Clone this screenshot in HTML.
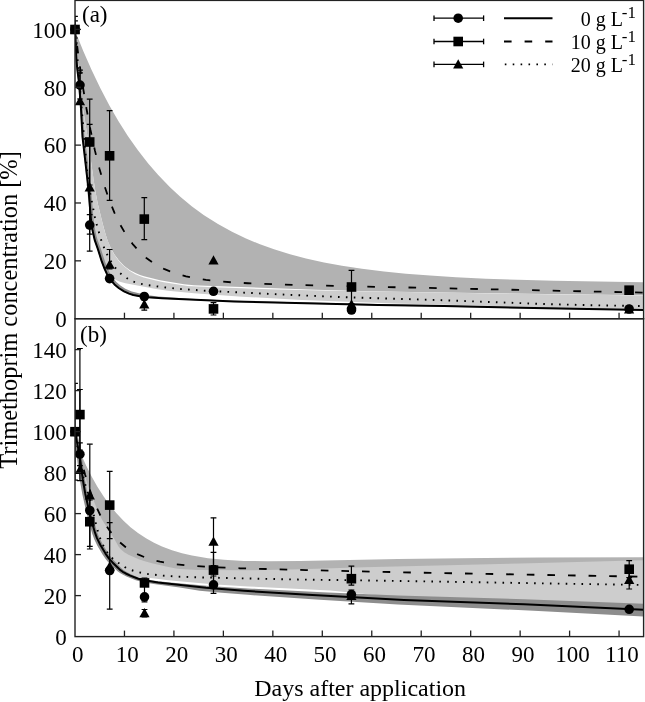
<!DOCTYPE html>
<html><head><meta charset="utf-8"><style>
html,body{margin:0;padding:0;background:#fff;}
svg{display:block;font-family:"Liberation Serif",serif;will-change:transform;}
.b10{fill:#b2b2b2;}
.b20{fill:#cdcdcd;}
.b0{fill:#8d8d8d;}
.ln{fill:none;stroke:#000;stroke-width:2;stroke-linejoin:round;}
.dash{stroke-dasharray:7.6 13;stroke-width:1.8;}
#A .dash{stroke-dashoffset:3.8;}
#B .dash{stroke-dashoffset:1.2;}
#A .dot,#B .dot{stroke-dashoffset:1.6;}
.dot{stroke-dasharray:1.6 6.3;stroke-width:1.9;}
.eb line{stroke:#000;stroke-width:1.2;}
.mk{fill:#000;}
.ax{fill:none;stroke:#222;stroke-width:1.4;}
.tk line{stroke:#222;stroke-width:1.3;}
.tl{font-size:23px;fill:#000;}
.lg{font-size:20px;fill:#000;}
.lgd line{stroke:#000;stroke-width:1.3;}
</style></head><body>
<svg width="645" height="702" viewBox="0 0 645 702">
<defs>
<clipPath id="clipA"><rect x="75.0" y="0.4" width="568.6" height="318.3"/></clipPath>
<clipPath id="clipB"><rect x="75.0" y="318.7" width="568.6" height="317.90000000000003"/></clipPath>
</defs>
<rect width="645" height="702" fill="#fff"/>
<g id="A" clip-path="url(#clipA)">
<polygon class="b10" points="75.00,30.52 83.25,50.98 91.50,69.77 100.25,88.03 109.25,105.17 118.50,121.21 128.00,136.16 137.75,150.06 148.00,163.24 158.00,174.82 170.00,187.24 180.00,196.47 192.00,206.38 204.00,215.13 218.00,224.07 232.00,231.81 246.00,238.51 260.00,244.33 274.00,249.36 290.00,254.30 306.00,258.50 324.00,262.47 342.00,265.78 362.00,268.82 384.00,271.53 406.00,273.71 430.00,275.60 456.00,277.21 486.00,278.64 518.00,279.77 554.00,280.72 643.60,282.15 643.60,295.20 426.00,292.28 370.00,291.16 316.00,289.73 212.00,286.05 194.00,285.17 184.00,284.19 160.00,280.20 144.00,276.23 140.00,274.95 136.00,273.35 130.00,270.20 124.00,265.65 119.00,260.59 114.50,254.61 111.00,248.60 107.75,240.94 105.50,234.07 102.25,222.10 97.75,203.52 95.25,190.54 93.50,179.34 88.00,139.58 82.25,104.05 80.50,89.07 75.00,30.00"/>
<polygon class="b20" points="75.00,30.00 80.25,86.49 82.00,102.27 88.00,139.58 95.00,189.05 97.50,202.38 101.50,219.08 104.25,229.68 107.25,239.59 110.72,248.10 114.11,254.32 118.48,260.52 123.39,265.84 129.57,270.87 135.33,274.18 139.61,276.09 143.67,277.38 155.72,280.46 163.79,282.15 187.87,285.91 207.95,287.09 277.96,289.52 343.98,291.12 480.00,293.32 643.60,295.40 643.60,309.30 558.00,307.76 468.00,305.19 394.00,303.62 302.00,299.89 242.00,296.71 194.00,293.31 168.00,290.75 156.00,288.88 125.50,283.15 120.00,281.80 117.00,280.60 113.00,278.21 109.50,274.95 106.25,270.41 103.75,265.66 101.50,260.07 94.75,240.16 92.75,232.54 91.25,224.74 89.75,214.61 88.25,201.62 84.75,161.87 79.25,88.89 76.75,63.55 75.00,29.50"/>
<polygon class="b0" points="75.60,29.47 77.37,60.10 78.25,68.67 80.02,80.65 82.38,104.22 84.44,136.84 87.09,155.10 89.20,174.78 91.03,188.78 93.63,219.73 95.16,229.84 96.43,235.73 97.92,240.90 100.77,248.49 105.32,262.57 109.67,272.81 112.91,277.99 116.62,282.32 120.77,285.82 125.33,288.66 131.73,291.44 138.97,293.34 148.20,295.17 158.08,296.50 190.03,298.70 222.03,300.13 252.02,301.14 376.02,304.12 444.02,305.26 560.02,307.70 643.61,309.20 643.59,310.60 559.99,309.10 443.99,306.66 377.99,305.56 233.98,302.00 161.97,298.82 147.94,297.92 139.91,296.92 133.10,295.61 128.78,294.18 123.73,291.89 118.65,288.73 114.08,284.86 110.02,280.13 106.72,274.95 104.20,269.52 101.43,262.38 97.43,249.59 94.43,241.18 92.16,231.78 90.40,220.06 87.90,189.12 81.90,137.05 80.15,104.38 78.15,80.83 76.65,68.85 75.90,60.20 74.40,29.53"/>
<polyline class="ln" points="75.00,29.50 76.50,60.16 77.25,68.79 78.75,80.77 80.75,104.34 82.50,137.00 88.50,189.06 91.00,220.00 92.50,230.33 94.75,240.17 98.00,249.40 101.75,261.44 104.50,268.68 107.00,274.19 110.50,279.77 114.50,284.43 119.00,288.25 124.00,291.35 129.00,293.62 133.25,295.02 140.00,296.32 148.00,297.32 162.00,298.23 234.00,301.40 378.00,304.96 444.00,306.06 560.00,308.50 643.60,310.00"/>
<polyline class="ln dash" points="75.00,29.26 78.75,58.53 82.50,84.41 86.50,108.72 90.50,130.04 95.00,150.90 99.50,168.90 104.25,185.23 109.25,199.89 114.50,212.90 120.25,224.82 126.25,235.09 132.50,243.85 139.00,251.27 146.00,257.70 154.00,263.48 158.00,265.86 164.00,268.91 170.00,271.44 178.00,274.15 186.00,276.28 196.00,278.31 206.00,279.84 218.00,281.19 232.00,282.33 248.00,283.25 280.00,284.49 326.00,285.71 643.60,292.64"/>
<polyline class="ln dot" points="75.00,29.50 86.50,165.89 88.25,180.12 90.00,192.00 95.00,217.86 97.00,225.72 101.75,241.91 105.75,251.80 109.75,259.46 114.25,266.34 117.25,270.12 119.75,272.83 124.25,276.52 131.75,281.14 138.75,283.36 148.00,285.19 164.00,287.34 180.00,288.95 206.00,290.77 286.00,294.70 342.00,297.11 436.00,300.00 546.00,304.10 598.00,305.38 643.60,306.10"/>
<g class="eb"><line x1="75" y1="16.3" x2="75" y2="43"/><line x1="72.1" y1="16.3" x2="77.9" y2="16.3"/><line x1="72.1" y1="43" x2="77.9" y2="43"/><line x1="75" y1="20.9" x2="75" y2="38"/><line x1="72.1" y1="20.9" x2="77.9" y2="20.9"/><line x1="72.1" y1="38" x2="77.9" y2="38"/><line x1="80" y1="70.2" x2="80" y2="99"/><line x1="77.1" y1="70.2" x2="82.9" y2="70.2"/><line x1="77.1" y1="99" x2="82.9" y2="99"/><line x1="80" y1="72.9" x2="80" y2="104"/><line x1="77.1" y1="72.9" x2="82.9" y2="72.9"/><line x1="77.1" y1="104" x2="82.9" y2="104"/><line x1="89.7" y1="99.2" x2="89.7" y2="185"/><line x1="86.8" y1="99.2" x2="92.60000000000001" y2="99.2"/><line x1="86.8" y1="185" x2="92.60000000000001" y2="185"/><line x1="89.7" y1="124.4" x2="89.7" y2="251.2"/><line x1="86.8" y1="124.4" x2="92.60000000000001" y2="124.4"/><line x1="86.8" y1="251.2" x2="92.60000000000001" y2="251.2"/><line x1="89.7" y1="214.6" x2="89.7" y2="234.1"/><line x1="86.8" y1="214.6" x2="92.60000000000001" y2="214.6"/><line x1="86.8" y1="234.1" x2="92.60000000000001" y2="234.1"/><line x1="109.6" y1="110.7" x2="109.6" y2="200.4"/><line x1="106.69999999999999" y1="110.7" x2="112.5" y2="110.7"/><line x1="106.69999999999999" y1="200.4" x2="112.5" y2="200.4"/><line x1="109.6" y1="249.5" x2="109.6" y2="268.8"/><line x1="106.69999999999999" y1="249.5" x2="112.5" y2="249.5"/><line x1="106.69999999999999" y1="268.8" x2="112.5" y2="268.8"/><line x1="144.3" y1="197.7" x2="144.3" y2="239.6"/><line x1="141.4" y1="197.7" x2="147.20000000000002" y2="197.7"/><line x1="141.4" y1="239.6" x2="147.20000000000002" y2="239.6"/><line x1="144.3" y1="300" x2="144.3" y2="310.2"/><line x1="141.4" y1="300" x2="147.20000000000002" y2="300"/><line x1="141.4" y1="310.2" x2="147.20000000000002" y2="310.2"/><line x1="213.5" y1="302.6" x2="213.5" y2="315"/><line x1="210.6" y1="302.6" x2="216.4" y2="302.6"/><line x1="210.6" y1="315" x2="216.4" y2="315"/><line x1="351.5" y1="270.3" x2="351.5" y2="303.7"/><line x1="348.6" y1="270.3" x2="354.4" y2="270.3"/><line x1="348.6" y1="303.7" x2="354.4" y2="303.7"/></g>
</g>
<g class="mk"><circle cx="75.00" cy="29.50" r="4.8"/><polygon points="75.00,24.30 80.10,33.60 69.90,33.60"/><rect x="70.20" y="24.70" width="9.6" height="9.6"/><circle cx="80.00" cy="85.10" r="4.8"/><polygon points="80.00,96.00 85.10,105.30 74.90,105.30"/><rect x="84.90" y="137.20" width="9.6" height="9.6"/><polygon points="89.70,182.30 94.80,191.60 84.60,191.60"/><circle cx="89.70" cy="225.10" r="4.8"/><rect x="104.80" y="151.00" width="9.6" height="9.6"/><polygon points="109.60,259.40 114.70,268.70 104.50,268.70"/><circle cx="109.60" cy="278.60" r="4.8"/><rect x="139.50" y="214.30" width="9.6" height="9.6"/><circle cx="144.30" cy="296.50" r="4.8"/><polygon points="144.30,299.30 149.40,308.60 139.20,308.60"/><polygon points="213.50,255.30 218.60,264.60 208.40,264.60"/><circle cx="213.50" cy="291.30" r="4.8"/><rect x="208.70" y="304.10" width="9.6" height="9.6"/><rect x="346.70" y="282.20" width="9.6" height="9.6"/><polygon points="351.50,299.30 356.60,308.60 346.40,308.60"/><circle cx="351.50" cy="310.00" r="4.8"/><rect x="624.30" y="285.40" width="9.6" height="9.6"/><polygon points="629.10,304.30 634.20,313.60 624.00,313.60"/><circle cx="629.10" cy="309.00" r="4.8"/></g>
<g id="B" clip-path="url(#clipB)">
<polygon class="b10" points="75.00,439.66 80.25,452.59 85.75,464.81 91.50,476.26 97.25,486.48 103.50,496.35 109.75,505.06 116.25,513.02 123.25,520.48 130.50,527.14 138.00,533.04 146.00,538.36 154.00,542.82 162.00,546.55 172.00,550.33 182.00,553.29 192.00,555.60 208.00,558.20 224.00,559.82 244.00,560.89 268.00,561.29 300.00,561.03 398.00,559.05 462.00,558.14 540.00,557.54 643.60,557.22 643.60,564.20 520.00,567.60 368.00,571.03 302.00,573.25 260.00,574.15 228.00,574.27 194.00,573.84 178.00,572.79 168.00,571.01 150.00,566.80 144.00,565.12 139.00,563.42 129.75,559.32 126.00,557.32 122.00,554.44 119.00,551.22 114.50,543.33 104.00,526.96 100.75,521.29 97.00,513.00 90.25,495.59 87.00,486.52 84.50,478.16 75.00,436.00"/>
<polygon class="b20" points="75.00,432.00 83.50,470.05 85.75,478.56 89.00,488.25 95.50,505.25 98.50,512.55 101.25,518.24 104.25,523.36 114.50,539.33 118.50,546.46 120.75,549.28 124.25,552.18 128.50,554.71 138.75,559.32 144.00,561.12 152.00,563.32 166.00,566.58 176.00,568.50 180.00,569.00 198.00,569.96 242.00,570.30 266.00,570.05 300.00,569.30 364.00,567.14 520.00,563.60 643.60,560.20 643.84,604.51 528.18,600.19 424.14,597.14 380.18,595.45 330.29,590.51 248.30,586.46 212.36,584.19 168.33,580.36 150.52,578.11 140.32,578.01 135.22,577.07 127.18,573.11 122.43,570.12 120.63,568.65 112.91,560.57 109.10,555.94 105.38,550.33 100.87,542.65 97.90,536.35 95.91,530.64 93.40,522.02 89.86,507.84 86.57,493.42 84.05,479.04 81.26,457.80 76.18,431.37"/>
<polygon class="b0" points="76.96,431.22 82.05,457.68 84.84,478.92 87.35,493.26 90.63,507.66 94.42,522.75 97.18,531.96 99.13,537.21 103.06,544.92 109.51,555.14 113.26,559.76 121.19,568.08 124.26,570.44 128.01,572.65 134.79,576.00 139.83,577.99 144.24,579.04 152.19,580.39 170.13,582.54 212.19,586.18 252.17,588.66 322.19,592.15 398.20,595.43 524.21,599.25 643.88,603.71 643.28,616.49 533.74,610.81 397.77,604.39 319.76,599.71 247.75,594.84 221.71,592.78 199.65,590.68 179.69,587.62 153.68,584.12 143.58,582.25 135.79,580.20 126.46,576.53 120.82,573.60 117.90,571.51 109.64,563.75 106.38,560.10 102.71,554.79 97.36,545.74 94.24,539.29 92.15,533.59 89.35,524.11 85.58,508.84 82.31,494.29 79.78,479.67 77.04,458.46 72.06,432.17"/>
<polyline class="ln" points="75.00,431.60 80.00,458.00 82.75,479.23 85.25,493.69 88.50,508.16 92.25,523.33 95.00,532.66 97.00,538.12 100.25,544.76 105.50,553.58 109.00,558.58 112.50,562.45 119.75,569.58 122.75,571.77 125.75,573.48 130.25,575.61 138.25,578.79 146.00,580.61 158.00,582.46 206.00,587.78 244.00,590.78 308.00,594.74 404.00,599.88 524.00,604.36 643.60,609.70"/>
<polyline class="ln dash" points="75.00,430.70 78.25,446.76 81.50,460.90 85.00,474.25 88.50,485.90 92.25,496.74 96.25,506.69 100.50,515.70 105.00,523.75 109.75,530.86 114.75,537.07 120.00,542.43 125.75,547.19 131.75,551.17 138.50,554.70 146.00,557.72 154.00,560.16 160.00,561.58 168.00,563.08 176.00,564.24 186.00,565.33 208.00,566.92 240.00,568.28 306.00,570.11 414.00,572.55 643.60,576.75"/>
<polyline class="ln dot" points="75.00,431.60 79.00,456.66 83.00,475.98 85.00,483.65 90.00,500.10 98.25,532.90 101.00,540.69 103.75,546.48 106.50,551.26 109.75,555.60 112.75,558.69 117.00,561.98 124.75,567.09 130.25,569.74 135.25,571.37 142.00,572.95 148.00,574.04 162.00,575.58 178.00,576.61 202.00,577.45 298.00,579.57 354.00,580.24 643.60,585.00"/>
<g class="eb"><line x1="75" y1="383.3" x2="75" y2="480.1"/><line x1="72.1" y1="383.3" x2="77.9" y2="383.3"/><line x1="72.1" y1="480.1" x2="77.9" y2="480.1"/><line x1="79.9" y1="348.5" x2="79.9" y2="480.7"/><line x1="77.0" y1="348.5" x2="82.80000000000001" y2="348.5"/><line x1="77.0" y1="480.7" x2="82.80000000000001" y2="480.7"/><line x1="79.9" y1="442.8" x2="79.9" y2="465.6"/><line x1="77.0" y1="442.8" x2="82.80000000000001" y2="442.8"/><line x1="77.0" y1="465.6" x2="82.80000000000001" y2="465.6"/><line x1="79.9" y1="389.5" x2="79.9" y2="450"/><line x1="77.0" y1="389.5" x2="82.80000000000001" y2="389.5"/><line x1="77.0" y1="450" x2="82.80000000000001" y2="450"/><line x1="89.8" y1="444.2" x2="89.8" y2="546.4"/><line x1="86.89999999999999" y1="444.2" x2="92.7" y2="444.2"/><line x1="86.89999999999999" y1="546.4" x2="92.7" y2="546.4"/><line x1="89.8" y1="500" x2="89.8" y2="549"/><line x1="86.89999999999999" y1="500" x2="92.7" y2="500"/><line x1="86.89999999999999" y1="549" x2="92.7" y2="549"/><line x1="109.7" y1="471.4" x2="109.7" y2="538.7"/><line x1="106.8" y1="471.4" x2="112.60000000000001" y2="471.4"/><line x1="106.8" y1="538.7" x2="112.60000000000001" y2="538.7"/><line x1="109.7" y1="522.6" x2="109.7" y2="609.2"/><line x1="106.8" y1="522.6" x2="112.60000000000001" y2="522.6"/><line x1="106.8" y1="609.2" x2="112.60000000000001" y2="609.2"/><line x1="144.5" y1="578" x2="144.5" y2="601.8"/><line x1="141.6" y1="578" x2="147.4" y2="578"/><line x1="141.6" y1="601.8" x2="147.4" y2="601.8"/><line x1="144.5" y1="609.5" x2="144.5" y2="617"/><line x1="141.6" y1="609.5" x2="147.4" y2="609.5"/><line x1="141.6" y1="617" x2="147.4" y2="617"/><line x1="213.5" y1="517.8" x2="213.5" y2="565.6"/><line x1="210.6" y1="517.8" x2="216.4" y2="517.8"/><line x1="210.6" y1="565.6" x2="216.4" y2="565.6"/><line x1="213.5" y1="552.4" x2="213.5" y2="587.8"/><line x1="210.6" y1="552.4" x2="216.4" y2="552.4"/><line x1="210.6" y1="587.8" x2="216.4" y2="587.8"/><line x1="213.5" y1="576" x2="213.5" y2="593.3"/><line x1="210.6" y1="576" x2="216.4" y2="576"/><line x1="210.6" y1="593.3" x2="216.4" y2="593.3"/><line x1="351.4" y1="566.1" x2="351.4" y2="585.1"/><line x1="348.5" y1="566.1" x2="354.29999999999995" y2="566.1"/><line x1="348.5" y1="585.1" x2="354.29999999999995" y2="585.1"/><line x1="351.4" y1="590" x2="351.4" y2="603.9"/><line x1="348.5" y1="590" x2="354.29999999999995" y2="590"/><line x1="348.5" y1="603.9" x2="354.29999999999995" y2="603.9"/><line x1="629.2" y1="560.7" x2="629.2" y2="577.7"/><line x1="626.3000000000001" y1="560.7" x2="632.1" y2="560.7"/><line x1="626.3000000000001" y1="577.7" x2="632.1" y2="577.7"/><line x1="629.2" y1="571" x2="629.2" y2="589"/><line x1="626.3000000000001" y1="571" x2="632.1" y2="571"/><line x1="626.3000000000001" y1="589" x2="632.1" y2="589"/></g>
</g>
<g class="mk"><circle cx="75.00" cy="431.70" r="4.8"/><polygon points="75.00,426.50 80.10,435.80 69.90,435.80"/><rect x="70.20" y="426.90" width="9.6" height="9.6"/><rect x="75.10" y="409.80" width="9.6" height="9.6"/><circle cx="79.90" cy="454.20" r="4.8"/><polygon points="79.90,464.70 85.00,474.00 74.80,474.00"/><polygon points="89.80,490.10 94.90,499.40 84.70,499.40"/><circle cx="89.80" cy="510.50" r="4.8"/><rect x="85.00" y="516.90" width="9.6" height="9.6"/><rect x="104.90" y="500.30" width="9.6" height="9.6"/><polygon points="109.70,561.30 114.80,570.60 104.60,570.60"/><circle cx="109.70" cy="570.50" r="4.8"/><rect x="139.70" y="578.10" width="9.6" height="9.6"/><circle cx="144.50" cy="596.90" r="4.8"/><polygon points="144.50,608.00 149.60,617.30 139.40,617.30"/><polygon points="213.50,536.50 218.60,545.80 208.40,545.80"/><rect x="208.70" y="565.30" width="9.6" height="9.6"/><circle cx="213.50" cy="584.80" r="4.8"/><rect x="346.60" y="573.90" width="9.6" height="9.6"/><polygon points="351.40,590.80 356.50,600.10 346.30,600.10"/><circle cx="351.40" cy="594.60" r="4.8"/><rect x="624.40" y="564.40" width="9.6" height="9.6"/><polygon points="629.20,574.80 634.30,584.10 624.10,584.10"/><circle cx="629.20" cy="609.30" r="4.8"/></g>
<g class="tk"><line x1="124.46" y1="636.6" x2="124.46" y2="630.6"/><line x1="124.46" y1="318.7" x2="124.46" y2="312.7"/><line x1="173.92" y1="636.6" x2="173.92" y2="630.6"/><line x1="173.92" y1="318.7" x2="173.92" y2="312.7"/><line x1="223.38" y1="636.6" x2="223.38" y2="630.6"/><line x1="223.38" y1="318.7" x2="223.38" y2="312.7"/><line x1="272.84" y1="636.6" x2="272.84" y2="630.6"/><line x1="272.84" y1="318.7" x2="272.84" y2="312.7"/><line x1="322.30" y1="636.6" x2="322.30" y2="630.6"/><line x1="322.30" y1="318.7" x2="322.30" y2="312.7"/><line x1="371.76" y1="636.6" x2="371.76" y2="630.6"/><line x1="371.76" y1="318.7" x2="371.76" y2="312.7"/><line x1="421.22" y1="636.6" x2="421.22" y2="630.6"/><line x1="421.22" y1="318.7" x2="421.22" y2="312.7"/><line x1="470.68" y1="636.6" x2="470.68" y2="630.6"/><line x1="470.68" y1="318.7" x2="470.68" y2="312.7"/><line x1="520.14" y1="636.6" x2="520.14" y2="630.6"/><line x1="520.14" y1="318.7" x2="520.14" y2="312.7"/><line x1="569.60" y1="636.6" x2="569.60" y2="630.6"/><line x1="569.60" y1="318.7" x2="569.60" y2="312.7"/><line x1="619.06" y1="636.6" x2="619.06" y2="630.6"/><line x1="619.06" y1="318.7" x2="619.06" y2="312.7"/><line x1="75.0" y1="260.84" x2="81.0" y2="260.84"/><line x1="75.0" y1="202.98" x2="81.0" y2="202.98"/><line x1="75.0" y1="145.12" x2="81.0" y2="145.12"/><line x1="75.0" y1="87.26" x2="81.0" y2="87.26"/><line x1="75.0" y1="29.40" x2="81.0" y2="29.40"/><line x1="75.0" y1="595.60" x2="81.0" y2="595.60"/><line x1="75.0" y1="554.60" x2="81.0" y2="554.60"/><line x1="75.0" y1="513.60" x2="81.0" y2="513.60"/><line x1="75.0" y1="472.60" x2="81.0" y2="472.60"/><line x1="75.0" y1="431.60" x2="81.0" y2="431.60"/><line x1="75.0" y1="390.60" x2="81.0" y2="390.60"/><line x1="75.0" y1="349.60" x2="81.0" y2="349.60"/></g>
<rect class="ax" x="75.0" y="0.4" width="568.6" height="318.3"/>
<rect class="ax" x="75.0" y="318.7" width="568.6" height="317.90000000000003"/>
<g class="tl"><text x="66.8" y="327.00" text-anchor="end">0</text><text x="66.8" y="269.14" text-anchor="end">20</text><text x="66.8" y="211.28" text-anchor="end">40</text><text x="66.8" y="153.42" text-anchor="end">60</text><text x="66.8" y="95.56" text-anchor="end">80</text><text x="66.8" y="37.70" text-anchor="end">100</text><text x="66.8" y="644.90" text-anchor="end">0</text><text x="66.8" y="603.90" text-anchor="end">20</text><text x="66.8" y="562.90" text-anchor="end">40</text><text x="66.8" y="521.90" text-anchor="end">60</text><text x="66.8" y="480.90" text-anchor="end">80</text><text x="66.8" y="439.90" text-anchor="end">100</text><text x="66.8" y="398.90" text-anchor="end">120</text><text x="66.8" y="357.90" text-anchor="end">140</text><text x="77.80" y="662.3" text-anchor="middle">0</text><text x="127.26" y="662.3" text-anchor="middle">10</text><text x="176.72" y="662.3" text-anchor="middle">20</text><text x="226.18" y="662.3" text-anchor="middle">30</text><text x="275.64" y="662.3" text-anchor="middle">40</text><text x="325.10" y="662.3" text-anchor="middle">50</text><text x="374.56" y="662.3" text-anchor="middle">60</text><text x="424.02" y="662.3" text-anchor="middle">70</text><text x="473.48" y="662.3" text-anchor="middle">80</text><text x="522.94" y="662.3" text-anchor="middle">90</text><text x="572.40" y="662.3" text-anchor="middle">100</text><text x="621.86" y="662.3" text-anchor="middle">110</text></g>
<text x="254.2" y="695.6" style="font-size:24px">Days after application</text>
<text transform="translate(17.4,468.7) rotate(-90)" style="font-size:24.4px">Trimethoprim concentration [%]</text>
<text x="82" y="22.3" style="font-size:23px">(a)</text>
<text x="80" y="341.5" style="font-size:23px">(b)</text>
<g class="lgd"><line x1="434" y1="18.2" x2="483.6" y2="18.2"/><line x1="434" y1="15.399999999999999" x2="434" y2="21.0"/><line x1="483.6" y1="15.399999999999999" x2="483.6" y2="21.0"/><circle cx="458.20" cy="18.20" r="4.8" fill="#000" stroke="none"/><line x1="434" y1="41.5" x2="483.6" y2="41.5"/><line x1="434" y1="38.7" x2="434" y2="44.3"/><line x1="483.6" y1="38.7" x2="483.6" y2="44.3"/><rect x="453.40" y="36.70" width="9.6" height="9.6" fill="#000" stroke="none"/><line x1="434" y1="64.4" x2="483.6" y2="64.4"/><line x1="434" y1="61.60000000000001" x2="434" y2="67.2"/><line x1="483.6" y1="61.60000000000001" x2="483.6" y2="67.2"/><polygon points="458.20,59.20 463.30,68.50 453.10,68.50" fill="#000" stroke="none"/></g>
<line x1="504" y1="18.2" x2="552.5" y2="18.2" class="ln"/><line x1="504" y1="41.5" x2="552.5" y2="41.5" class="ln dash"/><line x1="504.8" y1="64.4" x2="552.5" y2="64.4" class="ln dot"/>
<text x="623" y="25.6" text-anchor="end" class="lg">0 g L</text><text x="621.8" y="18.3" class="lg" style="font-size:17px">-1</text><text x="623" y="48.9" text-anchor="end" class="lg">10 g L</text><text x="621.8" y="41.6" class="lg" style="font-size:17px">-1</text><text x="623" y="71.8" text-anchor="end" class="lg">20 g L</text><text x="621.8" y="64.5" class="lg" style="font-size:17px">-1</text>
</svg>
</body></html>
